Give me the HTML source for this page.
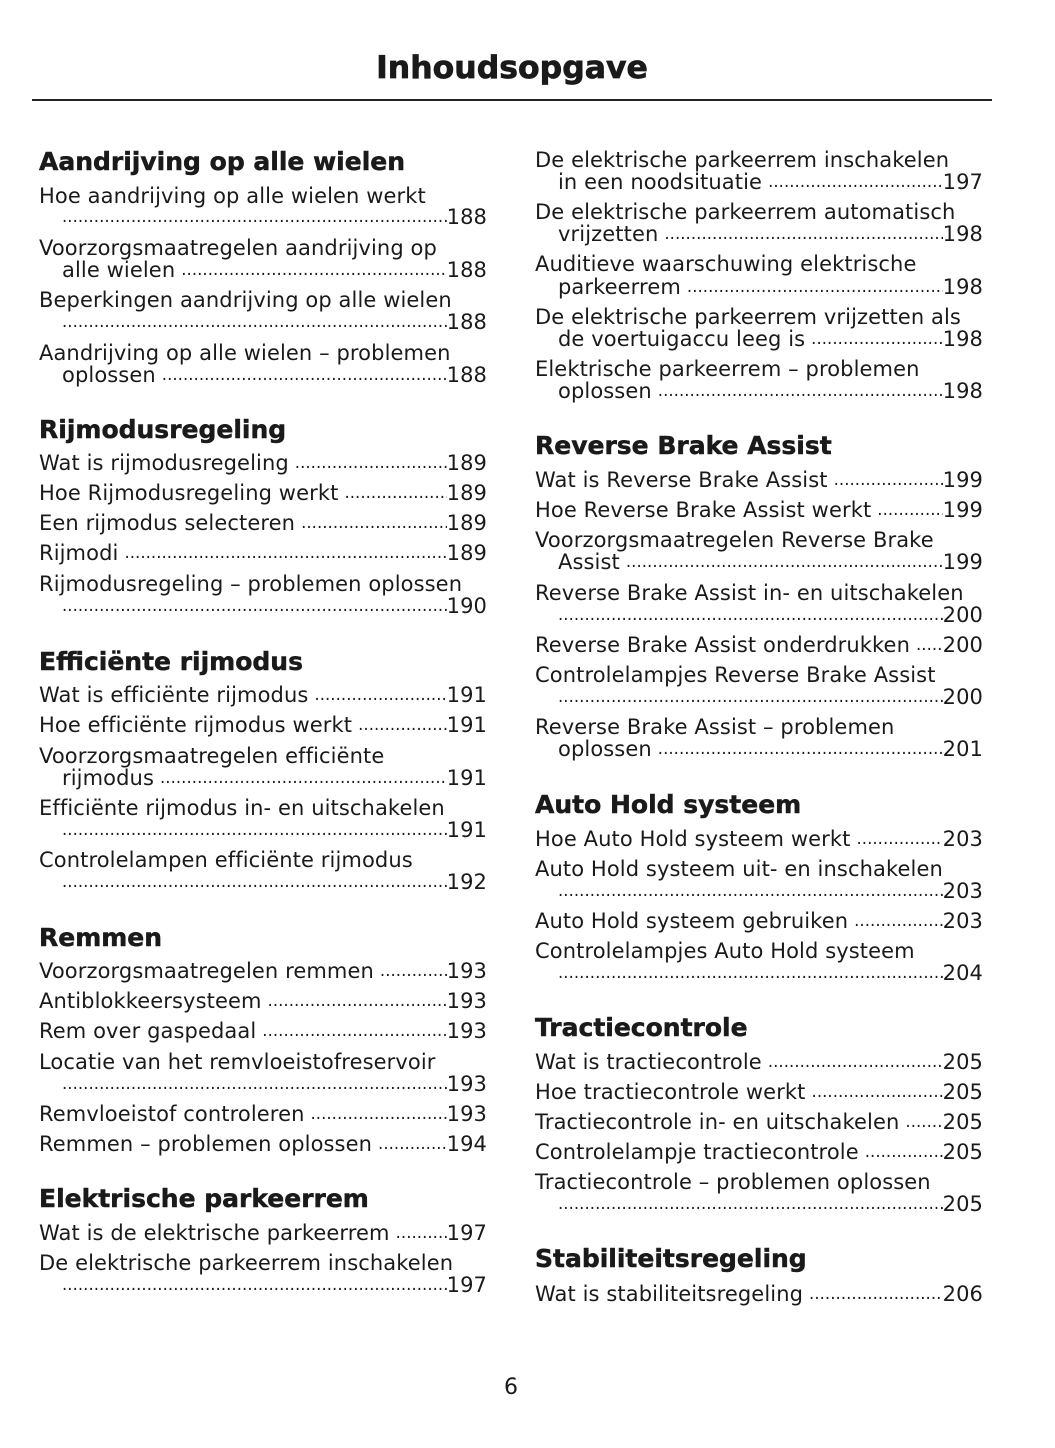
<!DOCTYPE html>
<html>
<head>
<meta charset="utf-8">
<style>
html,body{margin:0;padding:0;background:#fff;}
body{width:1055px;height:1448px;position:relative;overflow:hidden;font-family:"DejaVu Sans","Liberation Sans",sans-serif;color:#1a1a1a;}
.t{position:absolute;left:32px;width:960px;top:48px;height:40px;line-height:40px;text-align:center;font-size:31.5px;font-weight:bold;-webkit-text-stroke:0.7px #1a1a1a;}
.rule{position:absolute;left:32px;width:960px;top:99px;height:1.5px;background:#222;}
.h{position:absolute;height:30px;line-height:30px;font-size:25px;font-weight:bold;white-space:nowrap;-webkit-text-stroke:0.5px #1a1a1a;}
.l{position:absolute;height:22px;line-height:22px;font-size:21px;letter-spacing:0.1px;white-space:nowrap;display:flex;}
.L{left:39px;width:448px;}
.R{left:535px;width:448px;}
.i{padding-left:23px;box-sizing:border-box;}
.l .x{flex:none;}
.l .d{flex:1;overflow:hidden;font-size:16.5px;letter-spacing:0.05px;margin-left:6px;}
.l .i0{margin-left:0;}
.l .d::before{content:"................................................................................................................................................";}
.l .n{flex:none;}
.pg{position:absolute;left:411px;width:200px;top:1376px;height:24px;line-height:24px;font-size:22px;text-align:center;}
</style>
</head>
<body>
<div class="t">Inhoudsopgave</div>
<div class="rule"></div>

<!-- LEFT COLUMN -->
<div class="h" style="top:147px;left:39px">Aandrijving op alle wielen</div>
<div class="l L" style="top:185px"><span class="x">Hoe aandrijving op alle wielen werkt</span></div>
<div class="l L i" style="top:206px"><span class="d i0"></span><span class="n">188</span></div>
<div class="l L" style="top:237px"><span class="x">Voorzorgsmaatregelen aandrijving op</span></div>
<div class="l L i" style="top:259px"><span class="x">alle wielen</span><span class="d"></span><span class="n">188</span></div>
<div class="l L" style="top:289px"><span class="x">Beperkingen aandrijving op alle wielen</span></div>
<div class="l L i" style="top:311px"><span class="d i0"></span><span class="n">188</span></div>
<div class="l L" style="top:342px"><span class="x">Aandrijving op alle wielen – problemen</span></div>
<div class="l L i" style="top:364px"><span class="x">oplossen</span><span class="d"></span><span class="n">188</span></div>

<div class="h" style="top:415px;left:39px">Rijmodusregeling</div>
<div class="l L" style="top:452px"><span class="x">Wat is rijmodusregeling</span><span class="d"></span><span class="n">189</span></div>
<div class="l L" style="top:482px"><span class="x">Hoe Rijmodusregeling werkt</span><span class="d"></span><span class="n">189</span></div>
<div class="l L" style="top:512px"><span class="x">Een rijmodus selecteren</span><span class="d"></span><span class="n">189</span></div>
<div class="l L" style="top:542px"><span class="x">Rijmodi</span><span class="d"></span><span class="n">189</span></div>
<div class="l L" style="top:573px"><span class="x">Rijmodusregeling – problemen oplossen</span></div>
<div class="l L i" style="top:595px"><span class="d i0"></span><span class="n">190</span></div>

<div class="h" style="top:647px;left:39px">Efficiënte rijmodus</div>
<div class="l L" style="top:684px"><span class="x">Wat is efficiënte rijmodus</span><span class="d"></span><span class="n">191</span></div>
<div class="l L" style="top:714px"><span class="x">Hoe efficiënte rijmodus werkt</span><span class="d"></span><span class="n">191</span></div>
<div class="l L" style="top:745px"><span class="x">Voorzorgsmaatregelen efficiënte</span></div>
<div class="l L i" style="top:767px"><span class="x">rijmodus</span><span class="d"></span><span class="n">191</span></div>
<div class="l L" style="top:797px"><span class="x">Efficiënte rijmodus in- en uitschakelen</span></div>
<div class="l L i" style="top:819px"><span class="d i0"></span><span class="n">191</span></div>
<div class="l L" style="top:849px"><span class="x">Controlelampen efficiënte rijmodus</span></div>
<div class="l L i" style="top:871px"><span class="d i0"></span><span class="n">192</span></div>

<div class="h" style="top:923px;left:39px">Remmen</div>
<div class="l L" style="top:960px"><span class="x">Voorzorgsmaatregelen remmen</span><span class="d"></span><span class="n">193</span></div>
<div class="l L" style="top:990px"><span class="x">Antiblokkeersysteem</span><span class="d"></span><span class="n">193</span></div>
<div class="l L" style="top:1020px"><span class="x">Rem over gaspedaal</span><span class="d"></span><span class="n">193</span></div>
<div class="l L" style="top:1051px"><span class="x">Locatie van het remvloeistofreservoir</span></div>
<div class="l L i" style="top:1073px"><span class="d i0"></span><span class="n">193</span></div>
<div class="l L" style="top:1103px"><span class="x">Remvloeistof controleren</span><span class="d"></span><span class="n">193</span></div>
<div class="l L" style="top:1133px"><span class="x">Remmen – problemen oplossen</span><span class="d"></span><span class="n">194</span></div>

<div class="h" style="top:1184px;left:39px">Elektrische parkeerrem</div>
<div class="l L" style="top:1222px"><span class="x">Wat is de elektrische parkeerrem</span><span class="d"></span><span class="n">197</span></div>
<div class="l L" style="top:1252px"><span class="x">De elektrische parkeerrem inschakelen</span></div>
<div class="l L i" style="top:1274px"><span class="d i0"></span><span class="n">197</span></div>

<!-- RIGHT COLUMN -->
<div class="l R" style="top:149px"><span class="x">De elektrische parkeerrem inschakelen</span></div>
<div class="l R i" style="top:171px"><span class="x">in een noodsituatie</span><span class="d"></span><span class="n">197</span></div>
<div class="l R" style="top:201px"><span class="x">De elektrische parkeerrem automatisch</span></div>
<div class="l R i" style="top:223px"><span class="x">vrijzetten</span><span class="d"></span><span class="n">198</span></div>
<div class="l R" style="top:253px"><span class="x">Auditieve waarschuwing elektrische</span></div>
<div class="l R i" style="top:276px"><span class="x">parkeerrem</span><span class="d"></span><span class="n">198</span></div>
<div class="l R" style="top:306px"><span class="x">De elektrische parkeerrem vrijzetten als</span></div>
<div class="l R i" style="top:328px"><span class="x">de voertuigaccu leeg is</span><span class="d"></span><span class="n">198</span></div>
<div class="l R" style="top:358px"><span class="x">Elektrische parkeerrem – problemen</span></div>
<div class="l R i" style="top:380px"><span class="x">oplossen</span><span class="d"></span><span class="n">198</span></div>

<div class="h" style="top:431px;left:535px">Reverse Brake Assist</div>
<div class="l R" style="top:469px"><span class="x">Wat is Reverse Brake Assist</span><span class="d"></span><span class="n">199</span></div>
<div class="l R" style="top:499px"><span class="x">Hoe Reverse Brake Assist werkt</span><span class="d"></span><span class="n">199</span></div>
<div class="l R" style="top:529px"><span class="x">Voorzorgsmaatregelen Reverse Brake</span></div>
<div class="l R i" style="top:551px"><span class="x">Assist</span><span class="d"></span><span class="n">199</span></div>
<div class="l R" style="top:582px"><span class="x">Reverse Brake Assist in- en uitschakelen</span></div>
<div class="l R i" style="top:604px"><span class="d i0"></span><span class="n">200</span></div>
<div class="l R" style="top:634px"><span class="x">Reverse Brake Assist onderdrukken</span><span class="d"></span><span class="n">200</span></div>
<div class="l R" style="top:664px"><span class="x">Controlelampjes Reverse Brake Assist</span></div>
<div class="l R i" style="top:686px"><span class="d i0"></span><span class="n">200</span></div>
<div class="l R" style="top:716px"><span class="x">Reverse Brake Assist – problemen</span></div>
<div class="l R i" style="top:738px"><span class="x">oplossen</span><span class="d"></span><span class="n">201</span></div>

<div class="h" style="top:790px;left:535px">Auto Hold systeem</div>
<div class="l R" style="top:828px"><span class="x">Hoe Auto Hold systeem werkt</span><span class="d"></span><span class="n">203</span></div>
<div class="l R" style="top:858px"><span class="x">Auto Hold systeem uit- en inschakelen</span></div>
<div class="l R i" style="top:880px"><span class="d i0"></span><span class="n">203</span></div>
<div class="l R" style="top:910px"><span class="x">Auto Hold systeem gebruiken</span><span class="d"></span><span class="n">203</span></div>
<div class="l R" style="top:940px"><span class="x">Controlelampjes Auto Hold systeem</span></div>
<div class="l R i" style="top:962px"><span class="d i0"></span><span class="n">204</span></div>

<div class="h" style="top:1013px;left:535px">Tractiecontrole</div>
<div class="l R" style="top:1051px"><span class="x">Wat is tractiecontrole</span><span class="d"></span><span class="n">205</span></div>
<div class="l R" style="top:1081px"><span class="x">Hoe tractiecontrole werkt</span><span class="d"></span><span class="n">205</span></div>
<div class="l R" style="top:1111px"><span class="x">Tractiecontrole in- en uitschakelen</span><span class="d"></span><span class="n">205</span></div>
<div class="l R" style="top:1141px"><span class="x">Controlelampje tractiecontrole</span><span class="d"></span><span class="n">205</span></div>
<div class="l R" style="top:1171px"><span class="x">Tractiecontrole – problemen oplossen</span></div>
<div class="l R i" style="top:1193px"><span class="d i0"></span><span class="n">205</span></div>

<div class="h" style="top:1244px;left:535px">Stabiliteitsregeling</div>
<div class="l R" style="top:1283px"><span class="x">Wat is stabiliteitsregeling</span><span class="d"></span><span class="n">206</span></div>

<div class="pg">6</div>
</body>
</html>
